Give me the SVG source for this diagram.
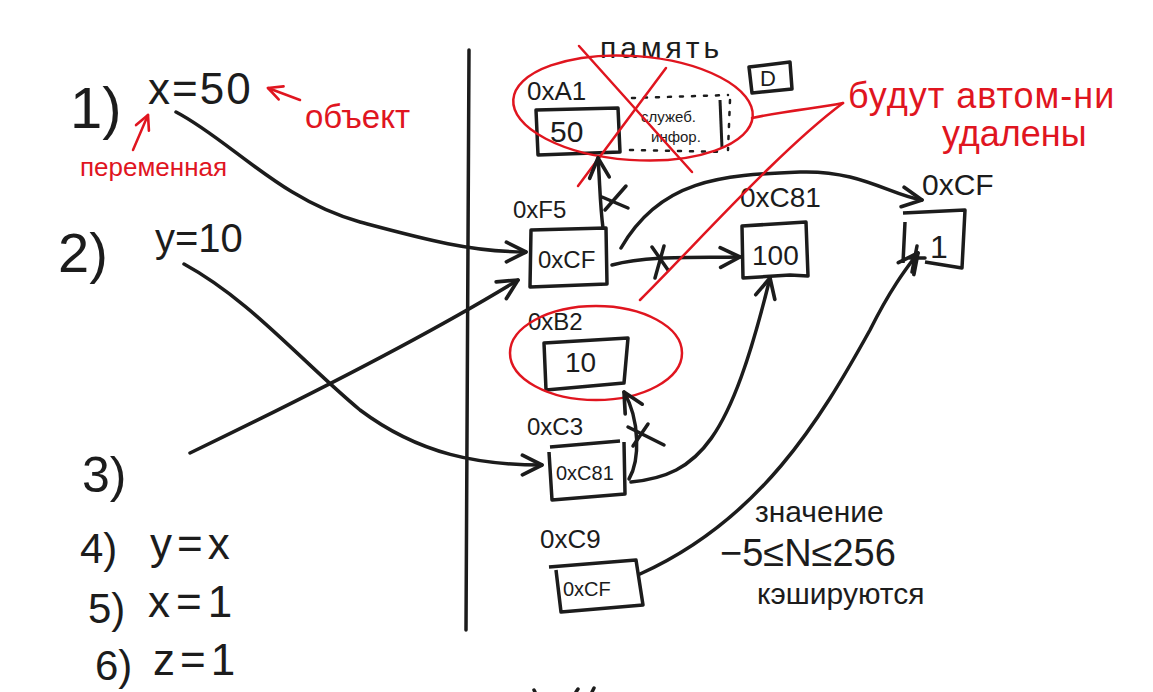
<svg xmlns="http://www.w3.org/2000/svg" width="1153" height="692" viewBox="0 0 1153 692">
<defs>
<style>
.t{font-family:"Liberation Sans","DejaVu Sans",sans-serif;fill:#1c1c1c}
.r{font-family:"Liberation Sans","DejaVu Sans",sans-serif;fill:#e0151f}
.ln{fill:none;stroke:#1c1c1c;stroke-width:3.5;stroke-linecap:round;stroke-linejoin:round}
.rl{fill:none;stroke:#e0151f;stroke-width:2.5;stroke-linecap:round;stroke-linejoin:round}
.bx{fill:none;stroke:#1c1c1c;stroke-width:3.5;stroke-linejoin:round}
</style>
<marker id="ah" viewBox="0 0 20 20" refX="18" refY="10" markerWidth="7" markerHeight="7" markerUnits="strokeWidth" orient="auto">
<path d="M2,2 L18,10 L2,18" fill="none" stroke="#1c1c1c" stroke-width="3" stroke-linecap="round" stroke-linejoin="round"/>
</marker>
<marker id="rah" viewBox="0 0 20 20" refX="18" refY="10" markerWidth="7" markerHeight="7" markerUnits="strokeWidth" orient="auto">
<path d="M2,2 L18,10 L2,18" fill="none" stroke="#e0151f" stroke-width="3" stroke-linecap="round" stroke-linejoin="round"/>
</marker>
</defs>
<rect width="1153" height="692" fill="#ffffff"/>

<!-- left code -->
<g id="line1">
<text class="t" x="70" y="128" font-size="58">1)</text>
<text class="t" x="148" y="104" font-size="44" letter-spacing="2">x=50</text>
</g>
<g id="label-obj">
<text class="r" x="305" y="128" font-size="33">объект</text>
</g>
<g id="label-var">
<text class="r" x="80" y="176" font-size="26">переменная</text>
</g>
<g id="line2">
<text class="t" x="58" y="272" font-size="56">2)</text>
<text class="t" x="155" y="252" font-size="40">y=10</text>
</g>
<g id="line3"><text class="t" x="82" y="492" font-size="50">3)</text></g>
<g id="line4">
<text class="t" x="80" y="563" font-size="42">4)</text>
<text class="t" x="150" y="559" font-size="44" letter-spacing="5">y=x</text>
</g>
<g id="line5">
<text class="t" x="88" y="623" font-size="42">5)</text>
<text class="t" x="148" y="617" font-size="44" letter-spacing="6">x=1</text>
</g>
<g id="line6">
<text class="t" x="95" y="680" font-size="42">6)</text>
<text class="t" x="153" y="675" font-size="44" letter-spacing="5">z=1</text>
</g>

<!-- divider -->
<line class="ln" x1="469" y1="50" x2="466" y2="630"/>

<!-- memory -->
<g id="mem-title">
<text class="t" x="600" y="58" font-size="30" letter-spacing="4">память</text>
</g>
<g id="mem-D">
<path class="bx" d="M749,67 L790,62 L792,89 L752,93 Z"/>
<text class="t" x="760" y="86" font-size="22">D</text>
</g>

<g id="obj-A1">
<text class="t" x="527" y="100" font-size="26">0xA1</text>
<path class="bx" d="M536,110 L618,108 L620,152 L538,155 Z"/>
<text class="t" x="550" y="142" font-size="30">50</text>
<path d="M632,98 L728,95 M730,100 L728,150 M630,150 L725,152" fill="none" stroke="#1c1c1c" stroke-width="2.5" stroke-dasharray="3,9" stroke-linecap="round"/>
<line x1="720" y1="100" x2="722" y2="148" stroke="#1c1c1c" stroke-width="3"/>
<text class="t" x="641" y="122" font-size="15">служеб.</text>
<text class="t" x="651" y="142" font-size="15">инфор.</text>
</g>
<g id="del-A1">
<ellipse class="rl" cx="633" cy="108" rx="120" ry="52" transform="rotate(4 633 108)"/>
<line class="rl" x1="579" y1="46" x2="692" y2="172"/>
<line class="rl" x1="666" y1="68" x2="578" y2="186"/>
</g>

<g id="obj-F5">
<text class="t" x="513" y="218" font-size="24">0xF5</text>
<path class="bx" d="M531,230 L606,228 L607,284 L530,287 Z"/>
<text class="t" x="538" y="268" font-size="24">0xCF</text>
</g>
<g id="obj-C81">
<text class="t" x="740" y="207" font-size="28">0xC81</text>
<path class="bx" d="M742,226 L806,222 L808,276 L790,275 L743,278 Z"/>
<text class="t" x="752" y="265" font-size="28">100</text>
</g>
<g id="obj-CF">
<text class="t" x="922" y="195" font-size="30">0xCF</text>
<path class="bx" d="M903,213 L965,210 L962,268 L925,262 M905,222 L903,263"/>
<text class="t" x="930" y="258" font-size="32">1</text>
</g>
<g id="obj-B2">
<text class="t" x="528" y="330" font-size="24">0xB2</text>
<path class="bx" d="M544,343 L628,338 L624,383 L546,390 Z"/>
<text class="t" x="565" y="372" font-size="28">10</text>
</g>
<g id="del-B2">
<ellipse class="rl" cx="596" cy="353" rx="86" ry="47"/>
</g>
<g id="obj-C3">
<text class="t" x="527" y="435" font-size="24">0xC3</text>
<path class="bx" d="M550,447 L620,441 M549,452 L552,500 L625,494 L624,442"/>
<text class="t" x="556" y="480" font-size="20">0xC81</text>
</g>
<g id="obj-C9">
<text class="t" x="540" y="548" font-size="26">0xC9</text>
<path class="bx" d="M549,567 L636,560 L643,605 L561,612 L556,570"/>
<text class="t" x="563" y="596" font-size="20">0xCF</text>
</g>

<g id="label-delete">
<text class="r" x="848" y="108" font-size="36" letter-spacing="1">будут автом-ни</text>
<text class="r" x="942" y="146" font-size="36">удалены</text>
</g>
<g id="label-cache">
<text class="t" x="755" y="522" font-size="30">значение</text>
<text class="t" x="720" y="566" font-size="38">−5≤N≤256</text>
<text class="t" x="757" y="604" font-size="30">кэшируются</text>
</g>

<!-- connectors -->
<g id="connectors">
<path class="ln" d="M176,112 C230,140 280,200 360,222 C420,238 470,252 526,252" marker-end="url(#ah)"/>
<path class="ln" d="M184,264 C250,300 300,360 360,410 C420,455 480,465 542,465" marker-end="url(#ah)"/>
<path class="ln" d="M190,453 C300,400 420,340 518,280" marker-end="url(#ah)"/>
<path class="ln" d="M603,228 C600,205 600,185 598,158" marker-end="url(#ah)"/>
<path class="ln" d="M602,197 L628,208 M605,210 L626,186"/>
<path class="ln" d="M621,248 C660,180 720,175 800,172 C860,170 890,195 922,200" marker-end="url(#ah)"/>
<path class="ln" d="M612,265 C650,255 700,258 740,257" marker-end="url(#ah)"/>
<path class="ln" d="M652,247 L668,270 M664,246 L655,278"/>
<path class="ln" d="M629,479 C640,460 640,420 624,392" marker-end="url(#ah)"/>
<path class="ln" d="M628,427 L664,445 M633,446 L648,424"/>
<path class="ln" d="M631,482 C700,475 730,440 770,278" marker-end="url(#ah)"/>
<path class="ln" d="M640,574 C760,520 820,420 870,330 C890,290 905,270 918,253" marker-end="url(#ah)"/>
<path class="ln" d="M910,258 L925,258 M917,246 L912,272"/>
</g>

<!-- red annotation lines -->
<g id="annotations">
<path class="rl" d="M752,118 C790,110 820,108 843,103"/>
<path class="rl" d="M640,300 C700,240 780,150 843,103"/>
<path class="rl" d="M300,100 L268,88" marker-end="url(#rah)"/>
<path class="rl" d="M133,150 L148,115" marker-end="url(#rah)"/>
</g>

<!-- cut-off strokes at bottom -->
<path d="M534,690 L535,692 M578,689 L576,692 M594,688 L592,692" stroke="#1c1c1c" stroke-width="3.5" stroke-linecap="round"/>
</svg>
